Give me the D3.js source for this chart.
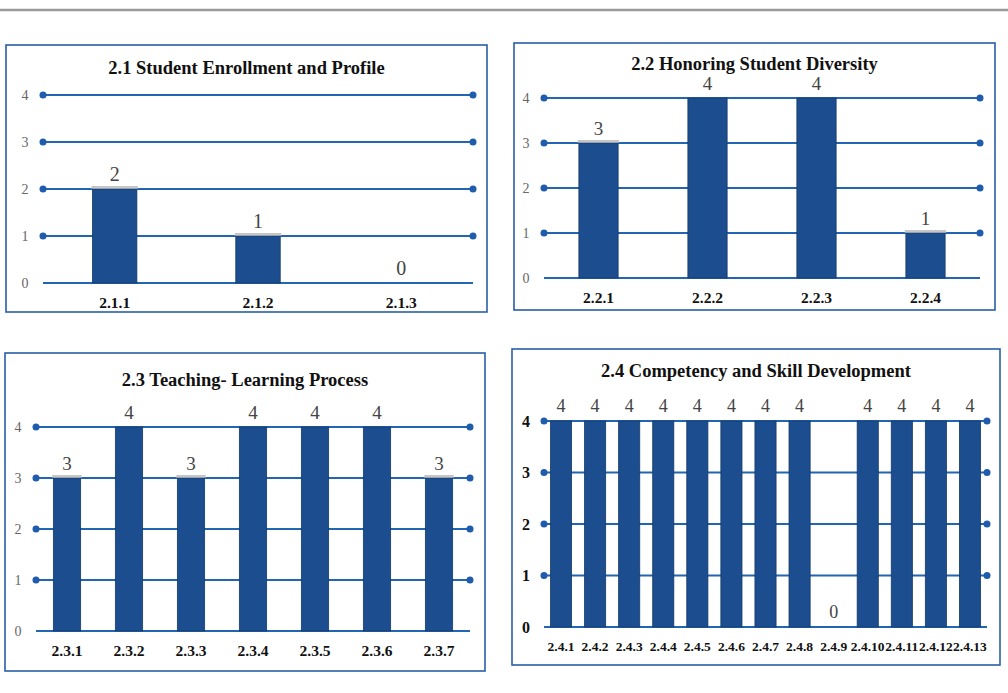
<!DOCTYPE html>
<html>
<head>
<meta charset="utf-8">
<script src="https://cdn.jsdelivr.net/npm/d3@7"></script>
<style>
  html, body { margin: 0; padding: 0; background: #fff; }
  svg { display: block; }
</style>
</head>
<body>
<svg id="chart" width="1008" height="693"></svg>
<script>
// Score (0–4) for each sub-criterion, one array pair per criterion
const yTicks = [0, 1, 2, 3, 4];

const titles = [
  "2.1 Student Enrollment and Profile",
  "2.2 Honoring Student Diversity",
  "2.3 Teaching- Learning Process",
  "2.4 Competency and Skill Development"
];

const cats21 = ["2.1.1", "2.1.2", "2.1.3"];
const vals21 = [2, 1, 0];

const cats22 = ["2.2.1", "2.2.2", "2.2.3", "2.2.4"];
const vals22 = [3, 4, 4, 1];

const cats23 = ["2.3.1", "2.3.2", "2.3.3", "2.3.4", "2.3.5", "2.3.6", "2.3.7"];
const vals23 = [3, 4, 3, 4, 4, 4, 3];

const cats24 = ["2.4.1", "2.4.2", "2.4.3", "2.4.4", "2.4.5", "2.4.6", "2.4.7",
                "2.4.8", "2.4.9", "2.4.10", "2.4.11", "2.4.12", "2.4.13"];
const vals24 = [4, 4, 4, 4, 4, 4, 4, 4, 0, 4, 4, 4, 4];

// Panel geometry and per-panel styling
const panels = [
  { title: titles[0], cats: cats21, vals: vals21,
    box: [6, 45, 481, 267], titleY: 68, plot: [43, 473, 95, 283],
    pad: 0.69, xFont: 15.5, yFont: 14, yBold: false, valFont: 20 },
  { title: titles[1], cats: cats22, vals: vals22,
    box: [514, 43, 481, 267], titleY: 64, plot: [544, 980, 98, 278],
    pad: 0.64, xFont: 15.5, yFont: 14, yBold: false, valFont: 19 },
  { title: titles[2], cats: cats23, vals: vals23,
    box: [5, 353, 480, 318], titleY: 380, plot: [36, 470, 427, 631],
    pad: 0.56, xFont: 15.5, yFont: 14, yBold: false, valFont: 19 },
  { title: titles[3], cats: cats24, vals: vals24,
    box: [512, 349, 488, 316], titleY: 371, plot: [544, 987, 421, 627],
    pad: 0.38, xFont: 13.5, yFont: 16, yBold: true, valFont: 18 }
];

const svg = d3.select("#chart");
const serif = "Liberation Serif, Times New Roman, serif";
const gridBlue = "#2266b3";
const barBlue = "#1c4d8e";

// Thin rule across the top of the page
svg.append("line")
  .attr("x1", 0).attr("x2", 1008).attr("y1", 10).attr("y2", 10)
  .attr("stroke", "#9a9a9a").attr("stroke-width", 2.5);

panels.forEach(p => {
  const g = svg.append("g");
  const [bx, by, bw, bh] = p.box;
  const [x0, x1, yTop, yBot] = p.plot;

  g.append("rect")
    .attr("x", bx).attr("y", by).attr("width", bw).attr("height", bh)
    .attr("fill", "#fff").attr("stroke", "#2a5ea8").attr("stroke-width", 1.6);

  g.append("text")
    .attr("x", bx + bw / 2).attr("y", p.titleY)
    .attr("text-anchor", "middle").attr("dominant-baseline", "central")
    .style("font-family", serif).attr("font-weight", "bold").attr("font-size", 18.5)
    .attr("fill", "#111")
    .text(p.title);

  const x = d3.scaleBand().domain(p.cats).range([x0, x1])
    .paddingInner(p.pad).paddingOuter(p.pad / 2);
  const y = d3.scaleLinear().domain([0, 4]).range([yBot, yTop]);
  const yMax = d3.max(yTicks);

  // Horizontal grid with end markers
  g.selectAll(".grid").data(yTicks).join("line")
    .attr("x1", x0).attr("x2", x1)
    .attr("y1", d => y(d)).attr("y2", d => y(d))
    .attr("stroke", gridBlue).attr("stroke-width", 2);

  const dotTicks = yTicks.filter(d => d > 0);
  [x0, x1].forEach(cx => {
    g.selectAll(null).data(dotTicks).join("circle")
      .attr("cx", cx).attr("cy", d => y(d)).attr("r", 3.5)
      .attr("fill", "#1f5cab");
  });

  // Y axis labels
  const yAxis = d3.axisLeft(y).tickValues(yTicks).tickFormat(d3.format("d"))
    .tickSize(0).tickPadding(0);
  const ya = g.append("g").attr("transform", `translate(${x0 - 18},0)`).call(yAxis);
  ya.select(".domain").remove();
  ya.selectAll("text")
    .attr("text-anchor", "middle").attr("x", 0)
    .style("font-family", serif).attr("font-size", p.yFont)
    .attr("font-weight", p.yBold ? "bold" : "normal")
    .attr("fill", p.yBold ? "#111" : "#666");

  const data = p.cats.map((c, i) => ({ cat: c, val: p.vals[i] }));

  // Bars
  g.selectAll(".bar").data(data).join("rect")
    .attr("x", d => x(d.cat)).attr("width", x.bandwidth())
    .attr("y", d => y(d.val)).attr("height", d => y(0) - y(d.val))
    .attr("fill", barBlue).attr("stroke", "#153a6b").attr("stroke-width", 0.8);

  // Soft grey cap on bars below the top gridline
  g.selectAll(".cap").data(data.filter(d => d.val > 0 && d.val < yMax)).join("rect")
    .attr("x", d => x(d.cat) - 1).attr("width", x.bandwidth() + 2)
    .attr("y", d => y(d.val) - 3).attr("height", 3)
    .attr("fill", "#b8b8b8").attr("opacity", 0.8);

  // Value labels
  g.selectAll(".val").data(data).join("text")
    .attr("x", d => x(d.cat) + x.bandwidth() / 2)
    .attr("y", d => y(d.val) - 15)
    .attr("text-anchor", "middle").attr("dominant-baseline", "central")
    .style("font-family", serif).attr("font-size", p.valFont)
    .attr("fill", "#444")
    .text(d => d.val);

  // Category labels
  const xAxis = d3.axisBottom(x).tickSize(0).tickPadding(0);
  const xa = g.append("g").attr("transform", `translate(0,${yBot + 19})`).call(xAxis);
  xa.select(".domain").remove();
  xa.selectAll("text")
    .attr("dy", null).attr("dominant-baseline", "central")
    .style("font-family", serif).attr("font-size", p.xFont)
    .attr("font-weight", "bold").attr("fill", "#111");
});
</script>
</body>
</html>
